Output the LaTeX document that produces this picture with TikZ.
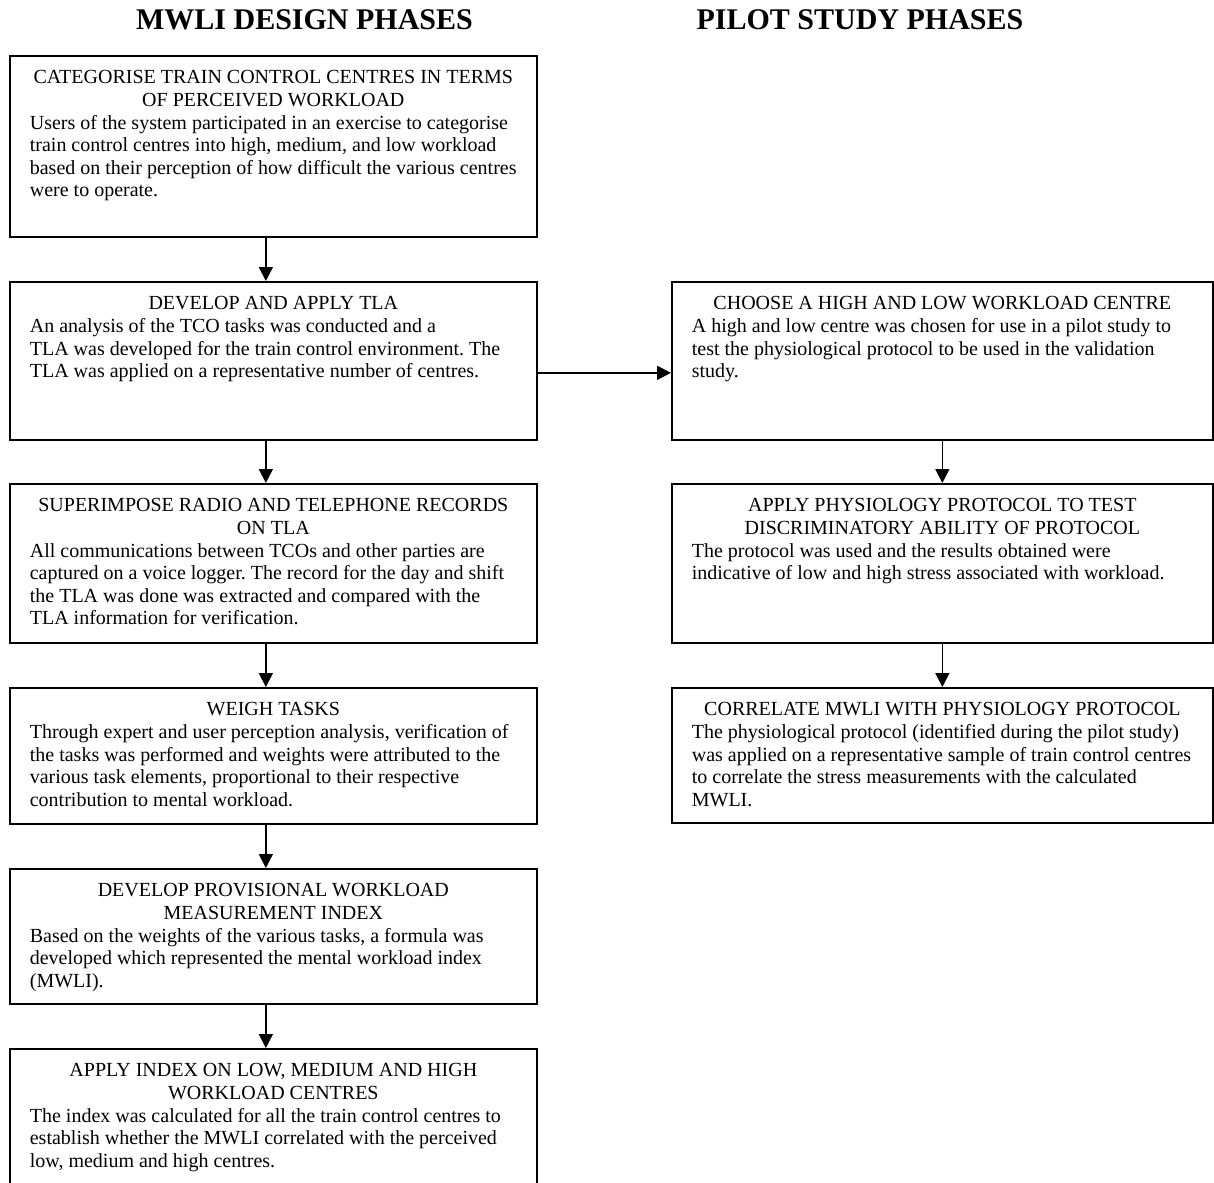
\documentclass[tikz,border=0pt]{standalone}
\usepackage{fontspec}
\setmainfont{Liberation Serif}
\usetikzlibrary{arrows.meta}
\frenchspacing

\tikzset{
  phase/.style={draw, line width=1.7pt, anchor=north west, inner xsep=20pt, inner ysep=0pt,
    font=\fontsize{20pt}{22.6pt}\selectfont},
  flow/.style={line width=1.7pt, -{Triangle[width=14pt,length=14pt]}},
  head/.style={anchor=base, font=\fontsize{30pt}{36pt}\selectfont\bfseries},
}
\newcommand{\phasetext}[4]{\parbox[t][#2][t]{#1}{\centering\rule{0pt}{28pt}#3\par\raggedright #4\par}}

\begin{document}
\begin{tikzpicture}[x=1pt, y=-1pt]
  \useasboundingbox (0,0) rectangle (1214,1182);
  \node[head] (lhead) at (304.5,30) {MWLI DESIGN PHASES};
  \node[head] (rhead) at (860,30) {PILOT STUDY PHASES};
  % design phases
  \node[phase] (l1) at (9,55) {\phasetext{487pt}{181pt}
    {CATEGORISE TRAIN CONTROL CENTRES IN TERMS\\ OF PERCEIVED WORKLOAD}
    {Users of the system participated in an exercise to categorise\\
     train control centres into high, medium, and low workload\\
     based on their perception of how difficult the various centres\\
     were to operate.}};
  \node[phase] (l2) at (9,281) {\phasetext{487pt}{158pt}
    {DEVELOP AND APPLY TLA}
    {An analysis of the TCO tasks was conducted and a\\
     TLA was developed for the train control environment. The\\
     TLA was applied on a representative number of centres.}};
  \node[phase] (l3) at (9,483) {\phasetext{487pt}{159pt}
    {SUPERIMPOSE RADIO AND TELEPHONE RECORDS\\ ON TLA}
    {All communications between TCOs and other parties are\\
     captured on a voice logger. The record for the day and shift\\
     the TLA was done was extracted and compared with the\\
     TLA information for verification.}};
  \node[phase] (l4) at (9,687) {\phasetext{487pt}{136pt}
    {WEIGH TASKS}
    {Through expert and user perception analysis, verification of\\
     the tasks was performed and weights were attributed to the\\
     various task elements, proportional to their respective\\
     contribution to mental workload.}};
  \node[phase] (l5) at (9,868) {\phasetext{487pt}{135pt}
    {DEVELOP PROVISIONAL WORKLOAD\\ MEASUREMENT INDEX}
    {Based on the weights of the various tasks, a formula was\\
     developed which represented the mental workload index\\
     (MWLI).}};
  \node[phase] (l6) at (9,1048) {\phasetext{487pt}{152pt}
    {APPLY INDEX ON LOW, MEDIUM AND HIGH\\ WORKLOAD CENTRES}
    {The index was calculated for all the train control centres to\\
     establish whether the MWLI correlated with the perceived\\
     low, medium and high centres.}};
  % pilot study phases
  \node[phase] (r1) at (671,281) {\phasetext{501pt}{158pt}
    {CHOOSE A HIGH AND LOW WORKLOAD CENTRE}
    {A high and low centre was chosen for use in a pilot study to\\
     test the physiological protocol to be used in the validation\\
     study.}};
  \node[phase] (r2) at (671,483) {\phasetext{501pt}{159pt}
    {APPLY PHYSIOLOGY PROTOCOL TO TEST\\ DISCRIMINATORY ABILITY OF PROTOCOL}
    {The protocol was used and the results obtained were\\
     indicative of low and high stress associated with workload.}};
  \node[phase] (r3) at (671,687) {\phasetext{501pt}{135pt}
    {CORRELATE MWLI WITH PHYSIOLOGY PROTOCOL}
    {The physiological protocol (identified during the pilot study)\\
     was applied on a representative sample of train control centres\\
     to correlate the stress measurements with the calculated\\
     MWLI.}};
  % arrows
  \foreach \a/\b in {l1/l2, l2/l3, l3/l4, l4/l5, l5/l6}
    \draw[flow] ([xshift=-7.5pt]\a.south) -- ([xshift=-7.5pt]\b.north);
  \foreach \a/\b in {r1/r2, r2/r3}
    \draw[flow] (\a.south) -- (\b.north);
  \draw[flow] ([yshift=-12pt]l2.east) -- ([yshift=-12pt]r1.west);
\end{tikzpicture}
\end{document}
